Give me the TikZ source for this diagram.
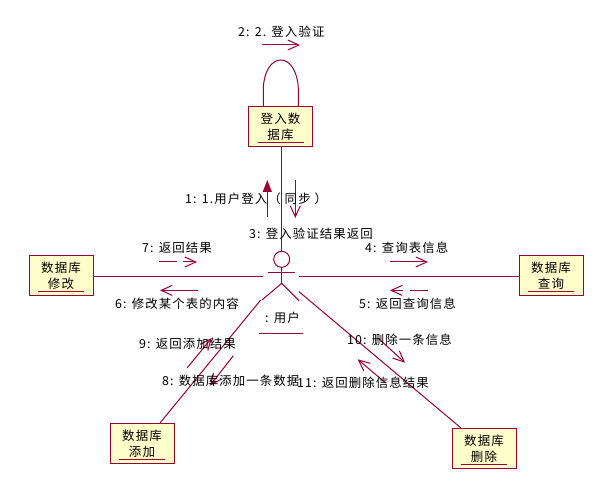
\documentclass[tikz,border=0pt]{standalone}
\usepackage{fontspec}
\setmainfont[LetterSpace=9]{Noto Sans CJK SC}
\usetikzlibrary{arrows.meta,calc}
\definecolor{umlline}{HTML}{990033}
\definecolor{umlfill}{HTML}{FFFFCC}
\tikzset{
  link/.style={draw=umlline,line width=1pt},
  msg/.style={draw=umlline,line width=1pt,-{Straight Barb[length=11pt,width=10pt,line width=1pt]}},
  msgsync/.style={draw=umlline,line width=1pt,-{Triangle[length=12pt,width=9pt,fill=umlline]}},
  msgtail/.style={draw=umlline,line width=1pt},
  objbox/.style={draw=umlline,fill=umlfill,line width=1pt,minimum width=64pt,minimum height=40pt,inner sep=0pt,align=center,font=\fontsize{12.5}{16}\selectfont},
  lab/.style={anchor=west,inner sep=0pt,font=\fontsize{12.4}{14}\selectfont,text=black},
}
\begin{document}
\begin{tikzpicture}[x=1pt,y=-1pt]
\useasboundingbox (0,0) rectangle (614,494);
% coordinates of the actor
\coordinate (ahead) at (281.7,259.3);
\coordinate (atop) at (281.7,251);
\coordinate (aneck) at (281.7,267.5);
\coordinate (ahip) at (281.7,283.3);
\coordinate (aL) at (268,272.3);
\coordinate (aR) at (295,272.3);
\coordinate (legL) at (262,300);
\coordinate (legR) at (299,300.7);
\coordinate (pW) at (262.7,276.5);
\coordinate (pE) at (299,276.5);
\coordinate (pSW) at (260.7,300);
\coordinate (pSE) at (299,291.7);
% objects
\node[objbox] (login) at (280.5,127) {登入数\\据库};
\node[objbox] (mod) at (61,275.5) {数据库\\修改};
\node[objbox] (qry) at (551,275.5) {数据库\\查询};
\node[objbox] (add) at (142,443.5) {数据库\\添加};
\node[objbox] (del) at (484,448.5) {数据库\\删除};
% underlines
\foreach \n in {login,mod,qry,add,del}{
  \draw[link] ($(\n.south)+(-23,-4.7)$) -- ($(\n.south)+(23,-4.7)$);
}
% links
\draw[link] (login.south -| atop) -- (atop);
\draw[link] (mod.east |- pW) -- (pW);
\draw[link] (pE) -- (qry.west |- pE);
\draw[link] (pSW) -- ($(add.north)+(18,0)$);
\draw[link] (pSE) -- ($(del.north)+(-23,0)$);
\coordinate (loopL) at (263.3,107); \coordinate (loopR) at (298.3,107);
\draw[link] (loopL) -- (263.3,88) .. controls (264,72) and (271,60) .. (280.8,60) .. controls (290.5,60) and (297.5,72) .. (298.3,88) -- (loopR);
% actor
\draw[link] (ahead) circle (8);
\draw[link] (aneck) -- (ahip);
\draw[link] (aL) -- (aR);
\draw[link] (legL) -- (ahip) -- (legR);
\node[lab] (user) at (265,318) {: 用户};
\draw[link] (259,333.3) -- (303,333.3);
% message arrows
\coordinate (m2a) at (262,45); \coordinate (m2b) at (300,45);
\draw[msg] (m2a) -- (m2b);
\coordinate (m1a) at (267.3,217.5); \coordinate (m1b) at (267.3,180);
\draw[msgsync] (m1a) -- (m1b);
\coordinate (m3a) at (295.3,180); \coordinate (m3b) at (295.3,218);
\draw[msg] (m3a) -- (m3b);
\coordinate (m7a) at (159,262); \coordinate (m7c) at (177,262); \coordinate (m7d) at (183,262); \coordinate (m7b) at (197,262);
\draw[msgtail] (m7a) -- (m7c);
\draw[msg] (m7d) -- (m7b);
\coordinate (m6a) at (198,290.4); \coordinate (m6b) at (160,290.4);
\draw[msg] (m6a) -- (m6b);
\coordinate (m4a) at (390,262); \coordinate (m4b) at (428,262);
\draw[msg] (m4a) -- (m4b);
\coordinate (m5a) at (428,290.4); \coordinate (m5c) at (410,290.4); \coordinate (m5d) at (403,290.4); \coordinate (m5b) at (390,290.4);
\draw[msgtail] (m5a) -- (m5c);
\draw[msg] (m5d) -- (m5b);
\coordinate (m9a) at (187.3,367.7); \coordinate (m9b) at (211.7,338);
\draw[msg] (m9a) -- (m9b);
\coordinate (m8a) at (233.3,355.7); \coordinate (m8b) at (210,385.7);
\draw[msg] (m8a) -- (m8b);
\coordinate (m10a) at (378,338); \coordinate (m10b) at (405,362.7);
\draw[msg] (m10a) -- (m10b);
\coordinate (m11a) at (385.7,383); \coordinate (m11b) at (357.7,359.3);
\draw[msg] (m11a) -- (m11b);
% labels
\node[lab] (l2) at (238,32) {2: 2. 登入验证};
\node[lab] (l1) at (185,198.5) {1: 1.用户登入（ 同步 ）};
\node[lab] (l3) at (249,234) {3: 登入验证结果返回};
\node[lab] (l7) at (142,248) {7: 返回结果};
\node[lab] (l6) at (115,303.5) {6: 修改某个表的内容};
\node[lab] (l4) at (365,248) {4: 查询表信息};
\node[lab] (l5) at (359,304) {5: 返回查询信息};
\node[lab] (l9) at (139,344) {9: 返回添加结果};
\node[lab] (l8) at (162,380.5) {8: 数据库添加一条数据};
\node[lab] (l11) at (297,382.5) {11: 返回删除信息结果};
\node[lab] (l10) at (347,339.5) {10: 删除一条信息};
\end{tikzpicture}
\end{document}
